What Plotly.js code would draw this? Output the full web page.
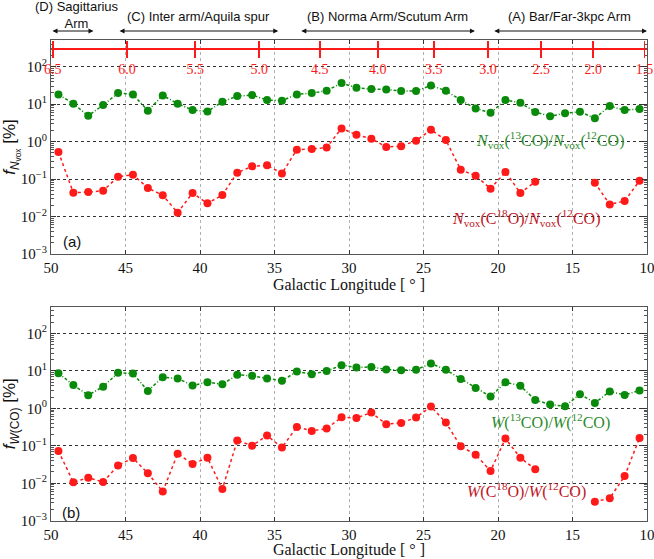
<!DOCTYPE html>
<html><head><meta charset="utf-8">
<script src="https://cdn.plot.ly/plotly-3.0.1.min.js"></script>
<style>html,body{margin:0;padding:0;background:#fff}#plot{width:654px;height:559px}</style>
</head><body><div id="plot"></div>
<script>
// Galactic longitude of each bin (deg)
const lon = [49.5,48.5,47.5,46.5,45.5,44.5,43.5,42.5,41.5,40.5,39.5,38.5,37.5,36.5,35.5,34.5,33.5,32.5,31.5,30.5,
             29.5,28.5,27.5,26.5,25.5,24.5,23.5,22.5,21.5,20.5,19.5,18.5,17.5,16.5,15.5,14.5,13.5,12.5,11.5,10.5];
// (a) voxel-number ratios [%]
const nvox13 = [18.3,10.3,4.9,9.5,19.8,18.3,6.7,17.2,10.3,7.0,6.4,11.6,16.5,17.5,12.9,12.4,18.3,19.8,22.9,36.6,
                27.5,25.4,24.8,22.4,22.4,31.8,22.9,12.9,7.7,5.9,12.9,10.9,6.2,4.8,5.7,6.3,4.2,8.9,7.0,7.4];
const nvox18 = [0.53,0.043,0.045,0.049,0.116,0.131,0.058,0.037,0.0127,0.0425,0.0225,0.0376,0.148,0.219,0.233,0.142,0.61,0.635,0.70,2.26,
                1.53,1.20,0.72,0.76,1.06,2.08,1.10,0.178,0.123,0.0555,0.155,0.0425,0.085,null,null,null,0.080,0.0211,0.0259,0.0906];
// (b) integrated-intensity ratios [%]
const w13 = [8.7,4.2,2.25,3.8,8.9,8.5,2.93,6.8,6.3,4.07,5.0,4.4,7.85,7.4,6.3,5.5,9.6,8.2,9.9,14.2,
             12.3,12.8,10.9,10.5,10.7,15.8,10.7,6.1,3.5,2.07,5.0,4.0,1.68,1.26,1.14,2.39,1.40,2.81,2.29,2.99];
const w18 = [0.073,0.0106,0.0141,0.0108,0.030,0.0474,0.0185,0.006,0.0618,0.0327,0.0483,0.0070,0.138,0.101,0.188,0.0895,0.319,0.25,0.288,0.58,
             0.556,0.77,0.377,0.409,0.568,1.12,0.417,0.097,0.058,0.0213,0.156,0.048,0.0236,null,null,null,0.0032,0.0040,0.0156,0.162];
// y tick labels
const yTickVals = [0.001,0.01,0.1,1,10,100];
const yTickText = ['10<sup>−3</sup>','10<sup>−2</sup>','10<sup>−1</sup>','10<sup>0</sup>','10<sup>1</sup>','10<sup>2</sup>'];
// galactocentric distance tick labels (kpc)
const rLabels = ['6.5','6.0','5.5','5.0','4.5','4.0','3.5','3.0','2.5','2.0','1.5'];
const R0 = 8.5;
// arm segments
const armNames = ['(D) Sagittarius<br>Arm','(C) Inter arm/Aquila spur','(B) Norma Arm/Scutum Arm','(A) Bar/Far-3kpc Arm'];
const armStart = [50.0,45.5,33.3,20.35];
const armEnd = [47.15,34.75,21.55,10.0];

const GREEN = '#0a8a0a', RED = '#ff1a1a';
const SERIF = '"Liberation Serif", "Times New Roman", serif';
const SANS = '"Liberation Sans", Arial, sans-serif';

const rTickVals = rLabels.map(s => Math.asin(parseFloat(s)/R0)*180/Math.PI);
const minorVals = [];
for (let e=-3;e<=2;e++) for (let k=2;k<=9;k++) minorVals.push(k*Math.pow(10,e));

function tr(y, xa, ya, col, dash) {
  return {x: lon, y: y, xaxis: xa, yaxis: ya, type:'scatter', mode:'lines+markers',
    connectgaps:false, marker:{color:col, size:8}, line:{color:col, width:1.5, dash:dash},
    showlegend:false, hoverinfo:'x+y'};
}
function ghost(xa) {
  return {x: lon, y: nvox13, xaxis: xa, yaxis:'y', type:'scatter', mode:'markers',
    marker:{size:1, opacity:0}, showlegend:false, hoverinfo:'skip'};
}
const data = [
  tr(nvox13,'x','y',GREEN,'3px,2px,1px,2px'),
  tr(nvox18,'x','y',RED,'dot'),
  tr(w13,'x2','y2',GREEN,'3px,2px,1px,2px'),
  tr(w18,'x2','y2',RED,'dot'),
  ghost('x3'), ghost('x4')
];

const xd = [51/654, 647/654];
function xax(anchor) {
  return {domain: xd, range:[50,10], anchor: anchor, dtick:5, tick0:10, ticks:'inside', ticklen:4,
    tickcolor:'#333', showline:true, linecolor:'#555', linewidth:1, mirror:'ticks',
    showgrid:true, gridcolor:'#b0b0b0', griddash:'dot', gridwidth:1, zeroline:false,
    ticklabeloverflow:'allow',
    tickfont:{family:SERIF, size:15, color:'#111'},
    title:{text:'Galactic Longitude [ ° ]', font:{family:SERIF, size:16, color:'#111'}, standoff:2}};
}
function yax(anchor, dom, titleText) {
  return {domain: dom, type:'log', range:[-3, 2.715], anchor: anchor,
    tickvals: yTickVals, ticktext: yTickText, ticks:'inside', ticklen:5, tickcolor:'#333',
    minor:{tickvals: minorVals, ticks:'inside', ticklen:3, tickcolor:'#555', showgrid:false},
    showline:true, linecolor:'#555', linewidth:1, mirror:'ticks',
    showgrid:true, gridcolor:'#333', griddash:'dot', gridwidth:1, zeroline:false,
    tickfont:{family:SERIF, size:15, color:'#111'},
    title:{text:titleText, font:{family:SANS, size:17, color:'#111'}, standoff:3}};
}

const redPos = 1 - 48.5/559;
const layout = {
  width:654, height:559, margin:{l:0,r:0,t:0,b:0}, paper_bgcolor:'#fff', plot_bgcolor:'#fff',
  font:{family:SERIF, size:15, color:'#111'},
  xaxis: xax('y'),
  yaxis: yax('x', [1-254/559, 1-40/559], '<i>f</i><sub><i>N</i><sub>vox</sub></sub> [%]'),
  xaxis2: xax('y2'),
  yaxis2: yax('x2', [1-520.7/559, 1-306.7/559], '<i>f</i><sub><i>W</i>(CO)</sub> [%]'),
  xaxis3: {overlaying:'x', anchor:'free', position: redPos, side:'bottom', range:[50,10],
    tickvals: rTickVals, ticktext: rLabels, ticks:'outside', ticklen:8, tickcolor:RED, tickwidth:1.6,
    showline:true, linecolor:RED, linewidth:2, showgrid:false, zeroline:false,
    ticklabeloverflow:'allow',
    tickfont:{family:SERIF, size:14, color:RED}},
  xaxis4: {overlaying:'x', anchor:'free', position: redPos, side:'bottom', range:[50,10],
    tickvals: rTickVals, ticks:'inside', ticklen:8, tickcolor:RED, tickwidth:1.6,
    showticklabels:false, showline:false, showgrid:false, zeroline:false},
  annotations: []
};

const arrowY = 1 - 31/559;
for (let i=0;i<armNames.length;i++) {
  layout.annotations.push({x: armEnd[i], y: arrowY, xref:'x', yref:'paper',
    ax: armStart[i], ay: arrowY, axref:'x', ayref:'paper', text:'', showarrow:true,
    arrowhead:2, arrowside:'end+start', arrowsize:1, arrowwidth:1, arrowcolor:'#111'});
  const twoLine = armNames[i].indexOf('<br>')>=0;
  layout.annotations.push({x:(armStart[i]+armEnd[i])/2 + (i===0?-0.3:0), y: twoLine ? 1-15/559 : 1-17/559,
    xref:'x', yref:'paper', text: armNames[i], showarrow:false,
    font:{family:SANS, size:13, color:'#111'}, yanchor:'middle'});
}
function lab(text, px, py, col, size, fam) {
  layout.annotations.push({x: px/654, y: 1-py/559, xref:'paper', yref:'paper', text:text,
    showarrow:false, font:{family:fam||SERIF, size:size||16, color:col}, xanchor:'center', yanchor:'middle'});
}
lab('<i>N</i><sub>vox</sub>(<sup>13</sup>CO)/<i>N</i><sub>vox</sub>(<sup>12</sup>CO)', 550, 140, '#2a8a2a');
lab('<i>N</i><sub>vox</sub>(C<sup>18</sup>O)/<i>N</i><sub>vox</sub>(<sup>12</sup>CO)', 526, 218, '#c0141e');
lab('<i>W</i>(<sup>13</sup>CO)/<i>W</i>(<sup>12</sup>CO)', 550, 422, '#2a8a2a');
lab('<i>W</i>(C<sup>18</sup>O)/<i>W</i>(<sup>12</sup>CO)', 526, 490, '#c0141e');
lab('(a)', 72, 241, '#111', 15, SANS);
lab('(b)', 71, 512, '#111', 15, SANS);

Plotly.newPlot('plot', data, layout, {staticPlot:true});
</script></body></html>
